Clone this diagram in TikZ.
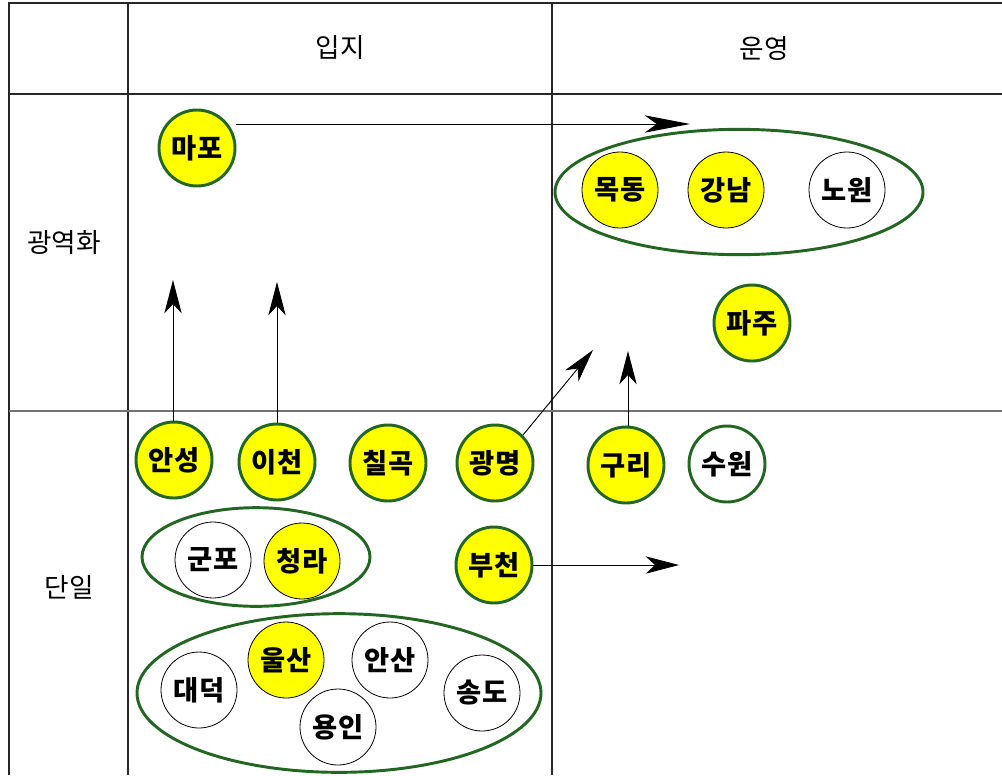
\documentclass[tikz,border=0pt]{standalone}
\usepackage{fontspec}
\newfontfamily\kr{Noto Sans CJK KR}
\usetikzlibrary{shapes.geometric,arrows.meta}
\definecolor{dgreen}{RGB}{34,102,34}
\definecolor{cyel}{RGB}{255,255,0}
\tikzset{
  grid/.style={draw=black!85,line width=0.8pt},
  gridg/.style={draw=black!55,line width=1.2pt},
  city/.style={circle,minimum size=57pt,inner sep=0pt,font=\kr\bfseries\fontsize{20.5}{20.5}\selectfont},
  ycity/.style={city,fill=cyel,draw=dgreen,line width=2.2pt},
  wcity/.style={city,fill=white,draw=dgreen,line width=2.2pt},
  yin/.style={city,fill=cyel,draw=black,line width=0.6pt},
  win/.style={city,fill=white,draw=black,line width=0.6pt},
  group/.style={ellipse,draw=dgreen,line width=2.2pt,inner sep=0pt},
  hdr/.style={font=\kr\fontsize{20}{20}\selectfont},
  conn/.style={draw=black,line width=0.7pt,-{Stealth[length=25pt,width=13pt,inset=7pt]}},
  longconn/.style={draw=black,line width=0.7pt,-{Stealth[length=34pt,width=13pt,inset=9pt]}},
}
\begin{document}
\begin{tikzpicture}[x=0.75pt,y=-0.75pt]
\useasboundingbox (0,0) rectangle (1002,775);
% table
\draw[grid] (1002,3) -- (9,3) -- (9,775);
\draw[grid] (128,3) -- (128,775);
\draw[grid] (552,3) -- (552,775);
\draw[grid] (9,94) -- (1002,94);
\draw[gridg] (9,411) -- (1002,411);
% headers
\node[hdr] (h1) at (340,48) {입지};
\node[hdr] (h2) at (764,48) {운영};
\node[hdr] (h3) at (64,243) {광역화};
\node[hdr] (h4) at (69,587) {단일};
% groups
\node[group,minimum width=276pt,minimum height=94pt] (g1) at (739,192) {};
\node[group,minimum width=171pt,minimum height=74pt] (g2) at (256,557) {};
\node[group,minimum width=303pt,minimum height=119pt] (g3) at (339,693) {};
% cities
\node[ycity] (mapo) at (197,148) {마포};
\node[yin] (mokdong) at (620,190) {목동};
\node[yin] (gangnam) at (726,190) {강남};
\node[win] (nowon) at (847,190) {노원};
\node[ycity] (paju) at (752,323) {파주};
\node[ycity] (anseong) at (174,460) {안성};
\node[ycity] (icheon) at (277,462) {이천};
\node[ycity] (chilgok) at (388,463) {칠곡};
\node[ycity] (gwangmyeong) at (495,463) {광명};
\node[ycity] (guri) at (626,465) {구리};
\node[wcity] (suwon) at (727,464) {수원};
\node[win] (gunpo) at (213,560) {군포};
\node[yin] (cheongna) at (302,561) {청라};
\node[ycity] (bucheon) at (494,565) {부천};
\node[win] (daedeok) at (199,690) {대덕};
\node[yin] (ulsan) at (286,660) {울산};
\node[win] (ansan) at (390,660) {안산};
\node[win] (songdo) at (482,693) {송도};
\node[win] (yongin) at (338,727) {용인};
% arrow targets
\coordinate (tmapo) at (690,124);
\coordinate (tanseong) at (173,280);
\coordinate (ticheon) at (277,282);
\coordinate (tgm) at (593,350);
\coordinate (tguri) at (628,351);
\coordinate (tbucheon) at (679,565);
% connectors
\draw[longconn] (mapo.east |- tmapo) -- (tmapo);
\draw[conn] (tanseong |- anseong.north) -- (tanseong);
\draw[conn] (ticheon |- icheon.north) -- (ticheon);
\draw[conn] (gwangmyeong.north east) -- (tgm);
\draw[conn] (tguri |- guri.north) -- (tguri);
\draw[conn] (bucheon.east) -- (tbucheon);
\end{tikzpicture}
\end{document}
